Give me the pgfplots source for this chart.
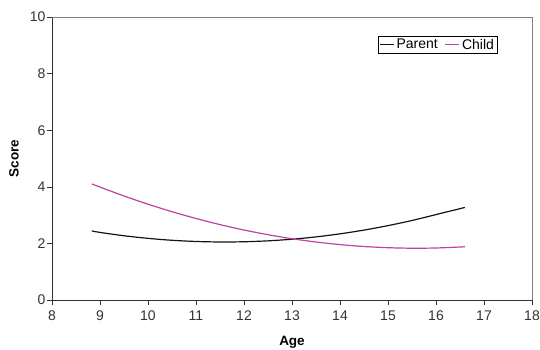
\documentclass[border=0pt]{standalone}
\usepackage{pgfplots}
\pgfplotsset{compat=1.18}
\usepackage{fontspec}
\setmainfont{Liberation Sans}
\definecolor{childc}{RGB}{192,64,164}
\definecolor{parentc}{RGB}{20,20,20}
\begin{document}
\begin{tikzpicture}[x=1pt,y=1pt]
\path[use as bounding box] (0,0) rectangle (540,350);
\begin{axis}[
  at={(52pt,50pt)}, anchor=south west,
  width=480pt, height=283pt, scale only axis,
  xmin=8, xmax=18, ymin=0, ymax=10,
  xtick={8,9,...,18}, ytick={0,2,...,10},
  axis lines=left,
  axis line style={-, draw=black!80},
  tick align=outside,
  major tick length=5pt,
  tick style={black!80},
  every tick label/.append style={font=\fontsize{14}{16}\selectfont, text=black!80},
  xticklabel style={yshift=-2pt},
  yticklabel style={xshift=2pt},
  /pgf/number format/assume math mode=true,
  xlabel={\textbf{Age}},
  ylabel={\textbf{Score}},
  every axis x label/.style={at={(axis description cs:0.5,0)}, anchor=center, yshift=-42pt, font=\fontsize{13.5}{15}\selectfont},
  every axis y label/.style={at={(axis description cs:0,0.5)}, rotate=90, anchor=center, yshift=38pt, font=\fontsize{13.5}{15}\selectfont},
  legend columns=2,
  legend style={at={(axis cs:17.27,9.33)}, anchor=north east, draw=black, font=\fontsize{14}{16}\selectfont, inner sep=0.8pt, /tikz/every even column/.append style={column sep=5pt}},
  legend image code/.code={\draw[#1] (0pt,0pt) -- (14pt,0pt);},
  clip=false,
  after end axis/.code={\draw[black!50] (rel axis cs:0,1) -- (rel axis cs:1,1) -- (rel axis cs:1,0);},
]
\addplot[parentc, line width=1.2pt, smooth] coordinates {
(8.83,2.44) (9,2.388) (9.5,2.270) (10,2.178) (10.5,2.110) (11,2.068) (11.5,2.050) (12,2.058) (12.5,2.090) (13,2.148) (13.5,2.230) (14,2.338) (14.5,2.470) (15,2.628) (15.5,2.810) (16,3.018) (16.6,3.27)
};
\addlegendentry{Parent}
\addplot[childc, line width=1.2pt, smooth] coordinates {
(8.83,4.103) (9,3.990) (9.5,3.676) (10,3.385) (10.5,3.120) (11,2.880) (11.5,2.664) (12,2.473) (12.5,2.307) (13,2.165) (13.5,2.049) (14,1.957) (14.5,1.890) (15,1.848) (15.5,1.830) (16,1.838) (16.6,1.880)
};
\addlegendentry{Child}
\end{axis}
\end{tikzpicture}
\end{document}
